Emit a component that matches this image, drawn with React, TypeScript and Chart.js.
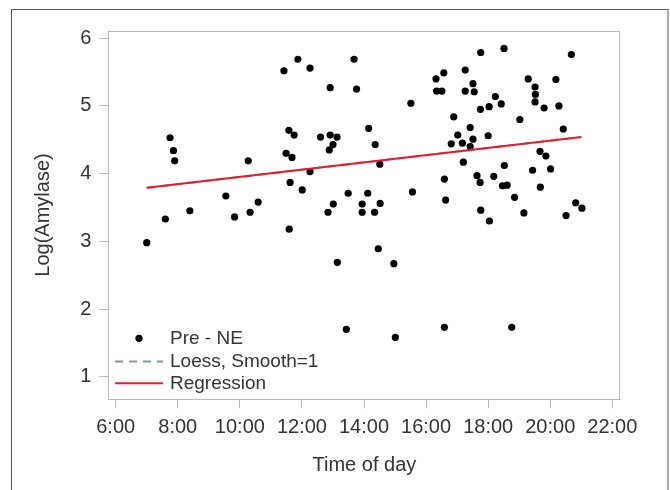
import React, { useEffect, useRef } from "react";
import { Chart, registerables } from "chart.js";

Chart.register(...registerables);

// ---- data ----
const timeOfDay = [
  7.75, 7.86, 7.90, 10.27, 9.55, 10.59, 8.39, 10.33, 7.60, 9.83, 7.00,
  11.42, 11.87, 12.26, 13.68, 12.91, 13.76, 16.32, 16.57, 16.34, 16.51, 15.51,
  11.58, 11.75, 12.60, 12.91, 13.13, 14.15, 13.00, 12.88, 14.36, 16.81, 11.49,
  11.68, 12.26, 14.51, 11.62, 12.01, 13.49, 14.12, 15.56, 16.59, 16.63, 13.01,
  12.84, 13.94, 14.52, 13.94, 14.34, 11.59, 14.46, 13.14, 14.96, 13.43, 15.01,
  16.59, 18.76, 17.76, 18.51, 20.68, 17.26, 17.51, 17.26, 17.55, 18.23, 18.42,
  18.03, 17.75, 19.29, 20.18, 19.51, 19.52, 19.51, 19.80, 20.28, 16.89, 19.02,
  17.42, 20.42, 17.02, 18.00, 17.51, 17.17, 17.42, 17.20, 19.67, 19.86, 18.52,
  19.43, 20.01, 17.64, 17.74, 18.18, 18.46, 18.61, 19.68, 18.85, 20.82, 21.02,
  17.76, 18.04, 19.15, 20.51,
];
const logAmylase = [
  4.53, 4.34, 4.19, 4.19, 3.67, 3.58, 3.45, 3.43, 3.33, 3.36, 2.98,
  5.52, 5.69, 5.56, 5.69, 5.27, 5.25, 5.40, 5.49, 5.22, 5.22, 5.04,
  4.64, 4.57, 4.54, 4.57, 4.54, 4.67, 4.43, 4.35, 4.43, 4.44, 4.30,
  4.24, 4.03, 4.14, 3.87, 3.76, 3.71, 3.71, 3.73, 3.92, 3.61, 3.55,
  3.43, 3.55, 3.56, 3.43, 3.43, 3.18, 2.89, 2.69, 2.67, 1.70, 1.58,
  1.73, 1.73, 5.79, 5.85, 5.76, 5.53, 5.33, 5.22, 5.21, 5.14, 5.03,
  4.99, 4.95, 5.40, 5.39, 5.28, 5.17, 5.06, 4.97, 5.00, 4.84, 4.80,
  4.68, 4.66, 4.57, 4.56, 4.51, 4.45, 4.40, 4.17, 4.33, 4.26, 4.12,
  4.05, 4.07, 3.97, 3.87, 3.96, 3.82, 3.83, 3.80, 3.65, 3.57, 3.49,
  3.46, 3.30, 3.42, 3.38,
];
const regressionX = [7.0, 21.0];
const regressionY = [3.79, 4.54];
const loessX = [7.0, 21.0];
const loessY = [3.79, 4.54];

const xTicks = [6, 8, 10, 12, 14, 16, 18, 20, 22];
const yTicks = [1, 2, 3, 4, 5, 6];
const xRange = [5.762, 22.263];
const yRange = [0.666, 6.112];

const seriesLabels = ["Pre - NE", "Loess, Smooth=1", "Regression"];
const xTitle = "Time of day";
const yTitle = "Log(Amylase)";

const FONT = "'Liberation Sans', Arial, sans-serif";
const TEXT = "#333333";
const AXIS_GRAY = "#b9b9b9";

const framePlugin = {
  id: "framePlugin",
  afterDraw(chart: any) {
    const { ctx, chartArea } = chart;
    ctx.save();
    // plot frame
    ctx.strokeStyle = AXIS_GRAY;
    ctx.lineWidth = 1;
    ctx.strokeRect(
      Math.round(chartArea.left) + 0.5,
      Math.round(chartArea.top) + 0.5,
      Math.round(chartArea.right - chartArea.left) - 1,
      Math.round(chartArea.bottom - chartArea.top) - 1
    );
    // outer frame
    ctx.strokeStyle = "#555555";
    ctx.strokeRect(11.5, 9.5, 656.5, 520);

    // legend inside plot area
    const rowsY = [338.3, 361.5, 383.3];
    const symX = 139;
    const textX = 170;
    ctx.font = `19px ${FONT}`;
    ctx.textBaseline = "middle";
    ctx.textAlign = "left";
    chart.data.datasets.forEach((ds: any, i: number) => {
      const y = rowsY[i];
      if (ds.type === "scatter" || ds.showLine === false) {
        ctx.fillStyle = ds.backgroundColor;
        ctx.beginPath();
        ctx.arc(symX, y, 3.6, 0, Math.PI * 2);
        ctx.fill();
      } else {
        ctx.strokeStyle = ds.borderColor;
        ctx.lineWidth = ds.borderWidth;
        ctx.setLineDash(ds.borderDash || []);
        ctx.beginPath();
        ctx.moveTo(115, y);
        ctx.lineTo(163, y);
        ctx.stroke();
        ctx.setLineDash([]);
      }
      ctx.fillStyle = TEXT;
      ctx.fillText(ds.label, textX, y);
    });
    ctx.restore();
  },
};

export default function App() {
  const canvasRef = useRef<HTMLCanvasElement | null>(null);

  useEffect(() => {
    if (!canvasRef.current) return;
    const points = timeOfDay.map((x, i) => ({ x, y: logAmylase[i] }));
    const reg = regressionX.map((x, i) => ({ x, y: regressionY[i] }));
    const loess = loessX.map((x, i) => ({ x, y: loessY[i] }));

    const chart = new Chart(canvasRef.current, {
      type: "scatter",
      data: {
        datasets: [
          {
            type: "scatter",
            label: seriesLabels[0],
            data: points,
            backgroundColor: "#000000",
            borderWidth: 0,
            pointRadius: 3.6,
            pointHoverRadius: 3.6,
            order: 3,
          },
          {
            type: "line",
            label: seriesLabels[1],
            data: loess,
            borderColor: "#8096aa",
            borderWidth: 2,
            borderDash: [8, 6],
            pointRadius: 0,
            fill: false,
            order: 2,
          },
          {
            type: "line",
            label: seriesLabels[2],
            data: reg,
            borderColor: "#e8192c",
            borderWidth: 2,
            pointRadius: 0,
            fill: false,
            order: 1,
          },
        ] as any,
      },
      options: {
        responsive: false,
        animation: false,
        devicePixelRatio: 1,
        layout: { padding: { top: 30.7, right: 49.5, bottom: 0, left: 0 } },
        plugins: {
          legend: { display: false },
          tooltip: { enabled: false },
          title: { display: false },
        },
        scales: {
          x: {
            type: "linear",
            position: "bottom",
            min: xRange[0],
            max: xRange[1],
            grid: {
              display: true,
              drawOnChartArea: false,
              drawTicks: true,
              tickLength: 9,
              color: AXIS_GRAY,
            },
            border: { display: true, color: AXIS_GRAY },
            ticks: {
              padding: 7,
              color: TEXT,
              font: { family: FONT, size: 20 },
              autoSkip: false,
              maxRotation: 0,
              callback: (v: any) => `${v}:00`,
            },
            afterBuildTicks: (scale: any) => {
              scale.ticks = xTicks.map((value) => ({ value }));
            },
            afterFit: (scale: any) => {
              scale.height = 90.7;
            },
            title: {
              display: true,
              text: xTitle,
              color: TEXT,
              font: { family: FONT, size: 20 },
              padding: { top: 0, bottom: 13 },
            },
          },
          y: {
            type: "linear",
            position: "left",
            min: yRange[0],
            max: yRange[1],
            grid: {
              display: true,
              drawOnChartArea: false,
              drawTicks: true,
              tickLength: 9,
              color: AXIS_GRAY,
            },
            border: { display: true, color: AXIS_GRAY },
            ticks: {
              padding: 8,
              color: TEXT,
              font: { family: FONT, size: 20 },
              autoSkip: false,
            },
            afterBuildTicks: (scale: any) => {
              scale.ticks = yTicks.map((value) => ({ value }));
            },
            afterFit: (scale: any) => {
              scale.width = 108.3;
            },
            title: {
              display: true,
              text: yTitle,
              color: TEXT,
              font: { family: FONT, size: 20 },
              padding: { top: 31, bottom: 0 },
            },
          },
        },
      },
      plugins: [framePlugin],
    });
    return () => chart.destroy();
  }, []);

  return (
    <div style={{ position: "absolute", left: 0, top: 0, width: 670, height: 490 }}>
      <canvas ref={canvasRef} width={670} height={490} style={{ display: "block" }} />
    </div>
  );
}
